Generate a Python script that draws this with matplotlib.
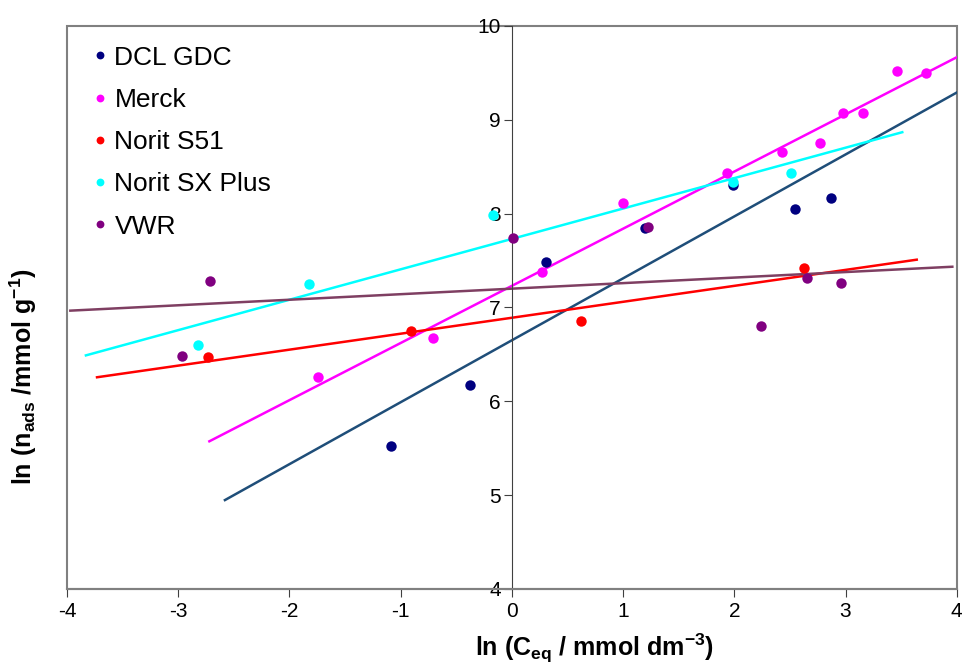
import matplotlib.pyplot as plt
from matplotlib.patches import Rectangle
import numpy as np

plt.rcParams['font.family'] = ['Liberation Sans', 'DejaVu Sans']
plt.rcParams['mathtext.default'] = 'regular'
plt.rcParams['axes.unicode_minus'] = False

series = ['DCL GDC', 'Merck', 'Norit S51', 'Norit SX Plus', 'VWR']
point_colors = ['#000080', '#FF00FF', '#FF0000', '#00FFFF', '#800080']
line_colors = ['#1F4E79', '#FF00FF', '#FF0000', '#00FFFF', '#7F3F62']

x_dcl = [-1.09, -0.38, 0.31, 1.20, 1.99, 2.55, 2.87]
y_dcl = [5.52, 6.17, 7.48, 7.85, 8.30, 8.05, 8.17]

x_merck = [-1.74, -0.71, 0.27, 1.00, 1.93, 2.43, 2.77, 2.98, 3.16, 3.46, 3.72]
y_merck = [6.26, 6.67, 7.38, 8.11, 8.43, 8.66, 8.75, 9.07, 9.07, 9.52, 9.50]

x_s51 = [-2.73, -0.91, 0.62, 2.63]
y_s51 = [6.47, 6.75, 6.86, 7.42]

x_sx = [-2.82, -1.82, -0.17, 1.99, 2.51]
y_sx = [6.60, 7.25, 7.99, 8.34, 8.43]

x_vwr = [-2.97, -2.71, 0.01, 1.22, 2.24, 2.65, 2.96]
y_vwr = [6.48, 7.28, 7.74, 7.86, 6.80, 7.31, 7.26]

# trend lines: slope, intercept and x range
slopes = [0.660, 0.609, 0.170, 0.324, 0.059]
intercepts = [6.65, 7.23, 6.89, 7.73, 7.20]
x_start = [-2.58, -2.72, -3.73, -3.83, -3.97]
x_end = [4.00, 4.00, 3.64, 3.51, 3.96]

xs = [x_dcl, x_merck, x_s51, x_sx, x_vwr]
ys = [y_dcl, y_merck, y_s51, y_sx, y_vwr]

fig = plt.figure(figsize=(9.64, 6.64), dpi=100)
ax = fig.add_axes([0.0695, 0.113, 0.923, 0.848])

for i in range(len(series)):
    lx = np.array([x_start[i], x_end[i]])
    ax.plot(lx, slopes[i] * lx + intercepts[i], color=line_colors[i], lw=1.8, zorder=2)
for i in range(len(series)):
    ax.plot(xs[i], ys[i], 'o', color=point_colors[i], ms=7.5, mec='none',
            label=series[i], zorder=3)

ax.set_xlim(-4, 4)
ax.set_ylim(4, 10)
ax.set_xticks(range(-4, 5))
ax.set_yticks(range(4, 11))

for s in ['top', 'right']:
    ax.spines[s].set_visible(False)
ax.spines['left'].set_position(('data', 0))
ax.spines['left'].set_color('#404040')
ax.spines['bottom'].set_color('#808080')
ax.spines['bottom'].set_linewidth(1.5)
ax.add_patch(Rectangle((0, 0), 1, 1, transform=ax.transAxes, fill=False,
                       edgecolor='#808080', lw=1.5, clip_on=False, zorder=1))

ax.tick_params(axis='both', labelsize=15, length=6, color='#404040')
ax.tick_params(axis='y', pad=2)

ax.set_xlabel(r'ln (C$_{eq}$ / mmol dm$^{-3}$)', fontsize=18, fontweight='bold')
ax.set_ylabel(r'ln (n$_{ads}$ /mmol g$^{-1}$)', fontsize=18, fontweight='bold')
ax.xaxis.set_label_coords(0.593, -0.076)
ax.yaxis.set_label_coords(-0.032, 0.377)

ax.legend(loc='upper left', frameon=False, fontsize=19, handletextpad=0.05,
          handlelength=1.0, markerscale=0.75, labelspacing=0.69,
          borderaxespad=0.35)

fig.savefig('out.png', dpi=100)
